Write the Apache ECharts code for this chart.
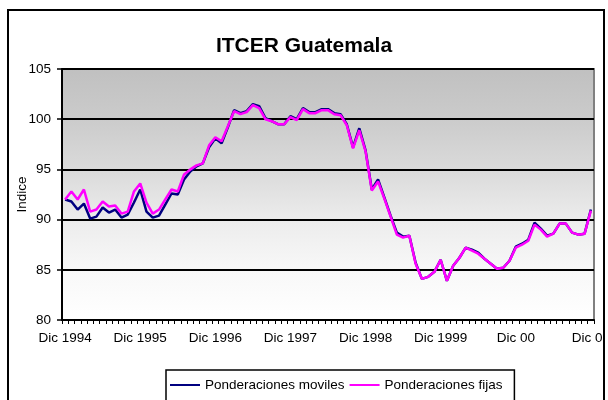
<!DOCTYPE html>
<html>
<head>
<meta charset="utf-8">
<script src="https://cdn.jsdelivr.net/npm/echarts@6/dist/echarts.min.js"></script>
<style>
  html, body { margin: 0; padding: 0; background: #fff; }
  #chart { width: 608px; height: 400px; }
</style>
</head>
<body>
<div id="chart"></div>
<script>
// monthly, Dic 1994 .. Dic 2001
const monthNames = ['Ene', 'Feb', 'Mar', 'Abr', 'May', 'Jun', 'Jul', 'Ago', 'Sep', 'Oct', 'Nov', 'Dic'];
const tickLabels = ['Dic 1994', 'Dic 1995', 'Dic 1996', 'Dic 1997', 'Dic 1998', 'Dic 1999', 'Dic 00', 'Dic 01'];

const moviles = [
  92.0, 91.8, 91.0, 91.6, 90.1, 90.3, 91.2, 90.7, 91.0, 90.2, 90.5, 91.7,
  93.0, 90.8, 90.2, 90.4, 91.5, 92.6, 92.5, 94.0, 94.8, 95.3, 95.6, 97.2,
  98.1, 97.6, 99.2, 100.9, 100.6, 100.8, 101.5, 101.3, 100.1, 99.8, 99.5, 99.5,
  100.3, 100.0, 101.1, 100.7, 100.7, 101.0, 101.0, 100.6, 100.5, 99.5, 97.2, 99.1,
  96.9, 93.0, 94.0, 92.2, 90.4, 88.7, 88.3, 88.4, 85.7, 84.1, 84.3, 84.8,
  86.0, 83.9, 85.4, 86.2, 87.2, 87.0, 86.7, 86.1, 85.6, 85.1, 85.2, 85.9,
  87.3, 87.6, 88.0, 89.7, 89.1, 88.4, 88.6, 89.6, 89.6, 88.7, 88.5, 88.6,
  91.0
];

const fijas = [
  92.0, 92.8, 92.0, 93.0, 90.8, 91.0, 91.8, 91.3, 91.4, 90.6, 90.8, 92.8,
  93.6, 91.7, 90.6, 91.0, 92.0, 93.0, 92.8, 94.5, 95.0, 95.4, 95.6, 97.4,
  98.2, 97.8, 99.3, 100.8, 100.5, 100.7, 101.4, 101.1, 100.0, 99.8, 99.5, 99.5,
  100.2, 99.9, 101.0, 100.6, 100.6, 100.9, 100.9, 100.5, 100.4, 99.4, 97.1, 98.9,
  96.8, 92.9, 93.8, 92.1, 90.3, 88.5, 88.2, 88.4, 85.6, 84.1, 84.3, 84.8,
  86.0, 83.9, 85.4, 86.2, 87.2, 86.9, 86.6, 86.1, 85.6, 85.1, 85.2, 85.9,
  87.2, 87.5, 87.9, 89.5, 89.0, 88.3, 88.6, 89.6, 89.6, 88.7, 88.5, 88.6,
  90.9
];

const categories = moviles.map((_, i) => {
  const m = 11 + i;
  return monthNames[m % 12] + ' ' + (1994 + Math.floor(m / 12));
});

const FONT = '"Liberation Sans", Arial, sans-serif';

const chart = echarts.init(document.getElementById('chart'));

chart.setOption({
  animation: false,
  backgroundColor: '#ffffff',
  title: {
    text: 'ITCER Guatemala',
    left: 'center',
    top: 31,
    textStyle: { fontFamily: FONT, fontSize: 21, fontWeight: 'bold', color: '#000' }
  },
  legend: {
    left: 166,
    top: 370,
    data: ['Ponderaciones moviles', 'Ponderaciones fijas'],
    icon: 'rect',
    itemWidth: 30,
    itemHeight: 2,
    itemGap: 5,
    padding: [8, 12, 12, 4],
    borderColor: '#000',
    borderWidth: 1.5,
    textStyle: { fontFamily: FONT, fontSize: 13.5, color: '#000' }
  },
  grid: {
    left: 62,
    right: 14,
    top: 69,
    bottom: 80,
    outerBoundsMode: 'none',
    containLabel: false,
    show: true,
    borderColor: '#808080',
    borderWidth: 2,
    backgroundColor: new echarts.graphic.LinearGradient(0, 0, 0, 1, [
      { offset: 0, color: '#c0c0c0' },
      { offset: 0.2, color: '#cbcbcb' },
      { offset: 0.4, color: '#dadada' },
      { offset: 0.6, color: '#ececec' },
      { offset: 0.8, color: '#f8f8f8' },
      { offset: 1, color: '#ffffff' }
    ])
  },
  xAxis: {
    type: 'category',
    data: categories,
    boundaryGap: true,
    axisLine: { lineStyle: { color: '#000', width: 2 } },
    axisTick: { show: true, interval: 0, length: 4, lineStyle: { color: '#000', width: 1 } },
    axisLabel: {
      interval: 11,
      margin: 11,
      fontFamily: FONT,
      fontSize: 13.5,
      color: '#000',
      formatter: (v, idx) => tickLabels[idx / 12]
    },
    splitLine: { show: false }
  },
  yAxis: {
    type: 'value',
    min: 80,
    max: 105,
    interval: 5,
    name: 'Indice',
    nameLocation: 'middle',
    nameGap: 33,
    nameMoveOverlap: false,
    nameTextStyle: { fontFamily: FONT, fontSize: 13.5, color: '#000' },
    axisLine: { show: true, lineStyle: { color: '#000', width: 2 } },
    axisTick: { show: true, length: 5, lineStyle: { color: '#000', width: 1.5 } },
    axisLabel: { margin: 11, fontFamily: FONT, fontSize: 13.5, color: '#000' },
    splitLine: { lineStyle: { color: '#000', width: 2 } }
  },
  series: [
    {
      name: 'Ponderaciones moviles',
      type: 'line',
      data: moviles,
      symbol: 'none',
      lineStyle: { color: '#000080', width: 2.5 },
      itemStyle: { color: '#000080' }
    },
    {
      name: 'Ponderaciones fijas',
      type: 'line',
      data: fijas,
      symbol: 'none',
      lineStyle: { color: '#ff00ff', width: 2.5 },
      itemStyle: { color: '#ff00ff' }
    }
  ],
  graphic: [
    {
      type: 'rect',
      z: 100,
      shape: { x: 605, y: 0, width: 10, height: 400 },
      style: { fill: '#ffffff' }
    },
    {
      type: 'rect',
      z: 101,
      shape: { x: 8, y: 10, width: 596, height: 400 },
      style: { fill: null, stroke: '#000', lineWidth: 2 }
    }
  ]
});
</script>
</body>
</html>
